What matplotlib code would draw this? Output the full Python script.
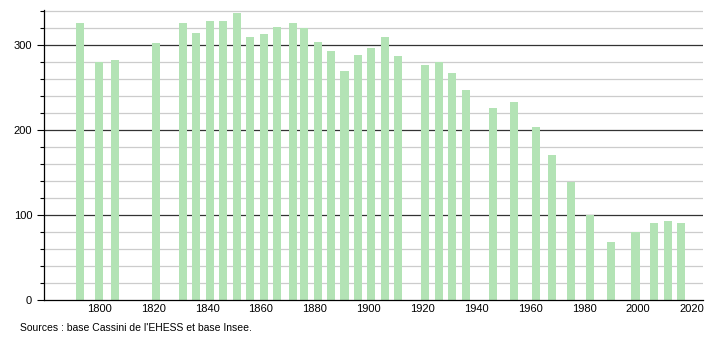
import matplotlib
matplotlib.use("Agg")
import matplotlib.pyplot as plt
import numpy as np

plt.rcParams['font.family'] = ['Liberation Sans', 'DejaVu Sans']

years = [1793, 1800, 1806, 1821, 1831, 1836, 1841, 1846, 1851, 1856, 1861, 1866,
         1872, 1876, 1881, 1886, 1891, 1896, 1901, 1906, 1911, 1921, 1926, 1931,
         1936, 1946, 1954, 1962, 1968, 1975, 1982, 1990, 1999, 2006, 2011, 2016]
population = [326, 280, 282, 302, 326, 314, 328, 328, 338, 309, 313, 321,
              326, 320, 304, 293, 269, 288, 296, 309, 287, 276, 280, 267,
              247, 226, 233, 204, 171, 139, 100, 68, 80, 91, 93, 91]
source_text = "Sources : base Cassini de l'EHESS et base Insee."

fig = plt.figure(figsize=(7.1, 3.4), dpi=100)
ax = fig.add_axes([0.062, 0.118, 0.928, 0.852])

# grid lines: light every 20, dark every 100
for v in range(20, 341, 20):
    if v % 100 == 0:
        ax.axhline(v, color="#333333", lw=0.9, zorder=1)
    else:
        ax.axhline(v, color="#cccccc", lw=0.9, zorder=1)

ax.bar(years, population, width=3.0, color="#b3e3b5", zorder=2)

ax.set_xlim(1779.5, 2024)
ax.set_ylim(0, 341)
ax.set_xticks(range(1800, 2021, 20))
ax.set_yticks([0, 100, 200, 300])
ax.set_yticks(range(0, 341, 20), minor=True)
ax.tick_params(axis="both", labelsize=8, colors="black")
ax.tick_params(axis="x", length=0, pad=3)
ax.tick_params(axis="y", which="major", length=5, width=0.8)
ax.tick_params(axis="y", which="minor", length=3, width=0.8)

for side in ["top", "right"]:
    ax.spines[side].set_visible(False)
ax.spines["left"].set_linewidth(0.9)
ax.spines["bottom"].set_linewidth(0.9)

fig.text(0.028, 0.035, source_text, fontsize=7.5, ha="left", va="center")

fig.savefig("out.png", dpi=100)
